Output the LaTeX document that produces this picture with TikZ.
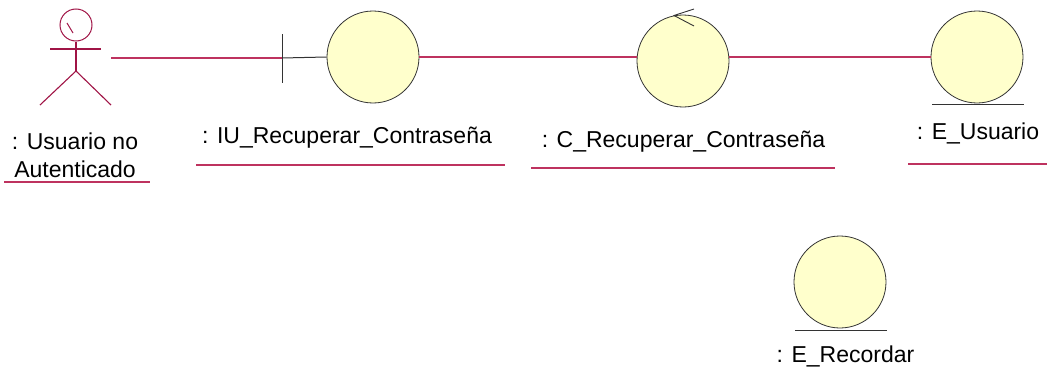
\documentclass[tikz,border=0pt]{standalone}
\usepackage{fontspec}
\setmainfont{Liberation Sans}
\begin{document}
\begin{tikzpicture}[x=1pt,y=-1pt,
  link/.style={draw=linkred, line width=1.1pt},
  actorline/.style={draw=actorred, line width=1.1pt},
  obj/.style={circle, draw=black!80, line width=0.8pt, fill=objfill, minimum size=92pt, inner sep=0pt},
  lbl/.style={font=\fontsize{23}{28}\selectfont, inner sep=0pt, align=center},
  uline/.style={draw=linkred, line width=1.1pt}
]
\definecolor{linkred}{RGB}{190,50,95}
\definecolor{actorred}{RGB}{160,20,70}
\definecolor{objfill}{RGB}{255,255,204}
\useasboundingbox (0,0) rectangle (1047,388);
% actor
\node[circle, draw=actorred, line width=1pt, minimum size=32pt, inner sep=0pt] (head) at (76,25) {};
\draw[actorred, line width=1pt] (67,23) -- (73,33);
\coordinate (neck) at (76,41);
\coordinate (hip) at (76,71);
\draw[actorline] (head.south) -- (hip);
\draw[actorline] (50,49) -- (101,49);
\draw[actorline] (hip) -- (40,105);
\draw[actorline] (hip) -- (111,105);
\coordinate (actorR) at (111,58);
\node[lbl] (actorlbl) at (75,155) {: Usuario no\\Autenticado};
\draw[uline] (4,182) -- (150,182);
% IU boundary
\node[obj] (iu) at (373,57) {};
\coordinate (bar) at (282,58);
\draw[black!80, line width=1pt] (282,34) -- (282,83);
\draw[black!80, line width=1pt] (bar) -- (iu.west);
\node[lbl] (iulbl) at (347,138) {: IU\_Recuperar\_Contraseña};
\draw[uline] (196,165) -- (505,165);
% control
\node[obj] (ctl) at (683,61) {};
\draw[black!80, line width=0.9pt] (694,9) -- (674,15.5) -- (694,26);
\node[lbl] (ctllbl) at (683.5,142) {: C\_Recuperar\_Contraseña};
\draw[uline] (531,168) -- (835,168);
% entity E_Usuario
\node[obj] (eu) at (977,57) {};
\draw[black!80, line width=1pt] (932,104) -- (1024,104);
\node[lbl] (eulbl) at (978,133) {: E\_Usuario};
\draw[uline] (908,164) -- (1047,164);
% entity E_Recordar
\node[obj] (er) at (840,282) {};
\draw[black!80, line width=1pt] (795,330) -- (887,330);
\node[lbl] (erlbl) at (845.5,356) {: E\_Recordar};
% links
\draw[link] (actorR) -- (bar);
\draw[link] (iu.east) -- (iu.east -| ctl.west);
\draw[link] (ctl.east |- eu.west) -- (eu.west);
\end{tikzpicture}
\end{document}
